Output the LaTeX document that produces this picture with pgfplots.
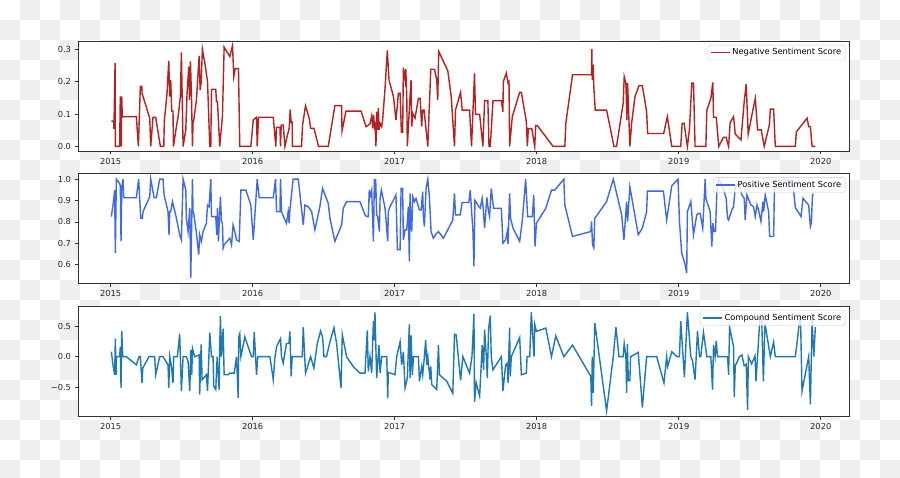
\documentclass[border=0pt]{standalone}
\usepackage{fontspec}
\setmainfont{DejaVu Sans}
\usepackage{pgfplots}
\pgfplotsset{compat=1.18}
\definecolor{negRed}{HTML}{B22222}
\definecolor{posBlue}{HTML}{4169E1}
\definecolor{cmpBlue}{HTML}{1F77B4}
\definecolor{checker}{HTML}{EFEFEF}
\definecolor{spine}{HTML}{333333}
\newcommand{\lblfont}{\fontsize{8.3}{10}\selectfont}
\pgfplotsset{
  panel/.style={
    scale only axis, width=771.3pt, height=110pt, anchor=south west,
    xmin=2014.770, xmax=2020.201,
    xtick={2015,2016,2017,2018,2019,2020},
    xticklabels={2015,2016,2017,2018,2019,2020},
    tick align=outside, tick pos=left, major tick length=3.5pt,
    axis line style={spine, line width=0.8pt},
    tick style={spine, line width=0.8pt},
    tick label style={font=\lblfont, text=black!85},
    axis background/.style={fill=white},
    legend style={at={(1,1)}, anchor=north east, xshift=-4pt, yshift=-4pt,
      draw=black!20, fill=white, fill opacity=0.8, text opacity=1,
      rounded corners=2pt, font=\lblfont, inner xsep=2pt, inner ysep=1.5pt},
    legend cell align=left,
    legend image code/.code={\draw[#1] (0pt,0pt) -- (19pt,0pt);},
  },
}
\begin{document}
\begin{tikzpicture}
\path[use as bounding box] (0,0) rectangle (900pt,478pt);
% transparent background as it shows in the reference
\begin{scope}
\clip (0,0) rectangle (900pt,478pt);
\foreach \r in {0,...,23}{\foreach \c in {0,...,44}{
  \pgfmathtruncatemacro{\odd}{mod(\r+\c,2)}
  \ifnum\odd=1 \fill[checker] ({\c*20pt},{458pt-\r*20pt}) rectangle ++(20pt,20pt); \fi
}}
\end{scope}

% negative
\begin{axis}[panel, at={(78pt,327pt)},
    ymin=-0.014, ymax=0.325,
    ytick={0,0.1,0.2,0.3}, yticklabels={0.0,0.1,0.2,0.3}]
\addplot[negRed, line width=1.4pt] coordinates {
(2015.005,0.078) (2015.021,0.078) (2015.023,0.054) (2015.031,0.257) (2015.033,0) (2015.063,0) (2015.068,0.154) (2015.075,0) (2015.078,0.154) (2015.082,0.092) (2015.181,0.092) (2015.195,0) (2015.209,0.185) (2015.219,0.185) (2015.221,0.164) (2015.275,0.087) (2015.282,0) (2015.298,0.090) (2015.317,0.090) (2015.350,0) (2015.374,0) (2015.378,0.079) (2015.397,0.164) (2015.409,0.264) (2015.416,0.154) (2015.423,0.205) (2015.430,0.109) (2015.439,0.109) (2015.442,0) (2015.463,0.061) (2015.475,0.092) (2015.491,0.154) (2015.498,0.290) (2015.510,0) (2015.529,0.051) (2015.538,0.164) (2015.550,0.246) (2015.555,0.143) (2015.559,0.236) (2015.562,0.262) (2015.569,0.154) (2015.576,0) (2015.580,0.073) (2015.585,0.081) (2015.604,0.143) (2015.623,0.279) (2015.630,0.174) (2015.637,0.195) (2015.646,0.300) (2015.663,0.257) (2015.682,0.200) (2015.698,0) (2015.705,0) (2015.710,0.176) (2015.740,0.176) (2015.745,0.138) (2015.752,0.138) (2015.768,0) (2015.787,0.092) (2015.799,0.306) (2015.839,0.277) (2015.858,0.311) (2015.867,0.215) (2015.877,0.240) (2015.900,0.240) (2015.909,0) (2015.987,0) (2016.004,0.081) (2016.013,0.085) (2016.027,0.090) (2016.032,0) (2016.041,0.090) (2016.145,0.090) (2016.163,0) (2016.168,0.059) (2016.192,0.059) (2016.196,0) (2016.201,0.066) (2016.215,0.066) (2016.227,0) (2016.243,0.032) (2016.257,0.056) (2016.264,0.113) (2016.271,0.075) (2016.278,0.075) (2016.280,0) (2016.344,0) (2016.351,0.066) (2016.372,0.125) (2016.398,0.087) (2016.408,0.056) (2016.431,0.056) (2016.464,0) (2016.532,0) (2016.579,0.126) (2016.626,0.126) (2016.629,0.048) (2016.657,0.109) (2016.763,0.109) (2016.798,0.061) (2016.826,0.069) (2016.838,0.094) (2016.845,0.056) (2016.852,0.097) (2016.859,0.051) (2016.861,0.076) (2016.868,0) (2016.873,0.107) (2016.878,0.051) (2016.885,0.118) (2016.890,0.051) (2016.897,0.071) (2016.908,0.061) (2016.915,0.081) (2016.932,0.179) (2016.948,0.296) (2016.960,0.205) (2016.991,0.154) (2017.009,0.081) (2017.026,0.164) (2017.038,0.164) (2017.047,0.044) (2017.056,0.044) (2017.061,0.243) (2017.073,0.205) (2017.078,0.238) (2017.085,0.154) (2017.089,0) (2017.108,0.154) (2017.115,0.205) (2017.120,0.061) (2017.127,0.102) (2017.143,0.087) (2017.167,0.148) (2017.179,0.148) (2017.190,0.061) (2017.197,0.112) (2017.207,0.112) (2017.221,0.051) (2017.233,0) (2017.254,0.238) (2017.280,0.238) (2017.296,0.205) (2017.303,0.143) (2017.310,0.293) (2017.374,0.233) (2017.398,0.154) (2017.421,0) (2017.428,0.112) (2017.464,0.167) (2017.475,0.112) (2017.527,0.112) (2017.541,0) (2017.562,0.226) (2017.569,0.099) (2017.598,0.099) (2017.621,0) (2017.633,0.141) (2017.656,0.141) (2017.664,0) (2017.673,0) (2017.680,0.051) (2017.692,0.141) (2017.751,0.141) (2017.762,0.107) (2017.765,0.200) (2017.786,0.226) (2017.798,0.195) (2017.805,0.200) (2017.809,0) (2017.828,0.092) (2017.880,0.167) (2017.892,0.167) (2017.927,0.076) (2017.934,0) (2017.941,0.055) (2017.965,0.055) (2017.986,0) (2017.993,0.064) (2018.005,0.064) (2018.115,0) (2018.198,0) (2018.205,0.071) (2018.252,0.221) (2018.386,0.221) (2018.388,0.300) (2018.391,0.205) (2018.398,0.252) (2018.402,0.185) (2018.412,0.112) (2018.492,0.112) (2018.544,0) (2018.562,0) (2018.609,0.133) (2018.616,0.215) (2018.628,0.195) (2018.635,0.081) (2018.640,0.195) (2018.656,0) (2018.668,0.071) (2018.692,0.154) (2018.720,0.187) (2018.744,0.187) (2018.774,0.107) (2018.781,0.040) (2018.894,0.040) (2018.920,0.092) (2018.951,0) (2019.014,0) (2019.024,0.071) (2019.038,0.071) (2019.061,0) (2019.075,0.051) (2019.092,0.195) (2019.104,0.195) (2019.115,0) (2019.191,0) (2019.198,0.112) (2019.226,0.148) (2019.240,0.197) (2019.245,0.090) (2019.264,0.090) (2019.282,0) (2019.315,0.028) (2019.334,0.028) (2019.351,0) (2019.362,0.073) (2019.386,0.092) (2019.398,0.038) (2019.438,0.020) (2019.461,0.138) (2019.475,0.193) (2019.489,0.038) (2019.522,0.112) (2019.539,0.148) (2019.555,0.051) (2019.581,0.051) (2019.602,0) (2019.638,0.066) (2019.645,0.115) (2019.668,0.115) (2019.680,0) (2019.821,0) (2019.828,0.045) (2019.904,0.087) (2019.915,0.061) (2019.927,0.061) (2019.939,0) (2019.962,0)
};
\addlegendentry{Negative Sentiment Score}
\end{axis}

% positive
\begin{axis}[panel, at={(78pt,194.5pt)},
    ymin=0.512, ymax=1.0265,
    ytick={0.6,0.7,0.8,0.9,1.0}, yticklabels={0.6,0.7,0.8,0.9,1.0}]
\addplot[posBlue, line width=1.4pt] coordinates {
(2015.005,0.825) (2015.021,0.902) (2015.028,0.949) (2015.033,0.654) (2015.040,1.0) (2015.063,0.980) (2015.068,0.969) (2015.073,0.709) (2015.078,0.957) (2015.087,1.0) (2015.092,0.913) (2015.181,0.913) (2015.197,1.0) (2015.212,0.817) (2015.223,0.817) (2015.228,0.848) (2015.275,0.918) (2015.282,1.0) (2015.306,0.913) (2015.322,0.913) (2015.345,1.0) (2015.369,1.0) (2015.376,0.926) (2015.404,0.848) (2015.411,0.740) (2015.416,0.848) (2015.423,0.848) (2015.435,0.895) (2015.458,0.833) (2015.486,0.740) (2015.498,0.716) (2015.510,1.0) (2015.529,0.949) (2015.533,0.817) (2015.545,0.755) (2015.557,0.864) (2015.564,0.538) (2015.576,1.0) (2015.580,0.848) (2015.585,0.840) (2015.604,0.747) (2015.620,0.647) (2015.627,0.740) (2015.639,0.709) (2015.651,0.755) (2015.674,0.794) (2015.682,0.879) (2015.693,0.871) (2015.705,1.0) (2015.710,0.825) (2015.740,0.825) (2015.747,0.740) (2015.752,0.864) (2015.759,0.709) (2015.766,0.825) (2015.773,0.918) (2015.780,0.802) (2015.787,0.794) (2015.792,0.678) (2015.799,0.693) (2015.839,0.724) (2015.851,0.693) (2015.862,0.786) (2015.874,0.755) (2015.886,0.716) (2015.905,0.709) (2015.917,0.949) (2015.952,0.949) (2015.987,0.879) (2016.004,0.716) (2016.032,1.0) (2016.046,0.913) (2016.145,0.913) (2016.161,1.0) (2016.168,0.848) (2016.192,0.848) (2016.196,1.0) (2016.203,0.848) (2016.227,0.809) (2016.238,0.794) (2016.250,0.848) (2016.257,0.794) (2016.262,0.856) (2016.285,1.0) (2016.321,1.0) (2016.356,0.786) (2016.368,0.879) (2016.391,0.871) (2016.415,0.848) (2016.438,0.763) (2016.473,0.871) (2016.492,0.957) (2016.532,0.887) (2016.544,0.817) (2016.579,0.709) (2016.626,0.786) (2016.638,0.864) (2016.661,0.895) (2016.755,0.895) (2016.791,0.833) (2016.802,0.825) (2016.814,0.825) (2016.821,0.949) (2016.826,0.918) (2016.838,0.949) (2016.850,0.709) (2016.857,1.0) (2016.861,0.910) (2016.866,1.0) (2016.873,0.833) (2016.880,0.825) (2016.892,0.755) (2016.897,0.910) (2016.906,0.949) (2016.932,0.864) (2016.951,0.709) (2016.955,0.848) (2016.967,0.871) (2017.009,0.926) (2017.019,0.670) (2017.038,0.670) (2017.045,0.957) (2017.056,0.957) (2017.061,0.716) (2017.073,0.763) (2017.085,0.763) (2017.096,0.871) (2017.103,0.616) (2017.108,0.933) (2017.115,0.778) (2017.120,0.755) (2017.127,0.918) (2017.139,0.895) (2017.150,0.910) (2017.174,0.856) (2017.186,0.856) (2017.197,0.941) (2017.202,0.825) (2017.209,0.778) (2017.221,0.957) (2017.233,1.0) (2017.244,0.918) (2017.256,0.755) (2017.272,0.724) (2017.287,0.740) (2017.308,0.755) (2017.343,0.724) (2017.409,0.809) (2017.421,0.933) (2017.428,0.833) (2017.461,0.833) (2017.475,0.891) (2017.522,0.891) (2017.532,0.949) (2017.551,0.755) (2017.558,0.592) (2017.565,0.902) (2017.593,0.871) (2017.602,0.864) (2017.616,0.910) (2017.624,0.856) (2017.633,0.771) (2017.649,0.915) (2017.659,0.856) (2017.668,0.825) (2017.680,0.957) (2017.696,0.864) (2017.751,0.864) (2017.762,0.701) (2017.781,0.716) (2017.793,0.755) (2017.798,0.696) (2017.809,0.933) (2017.816,0.817) (2017.833,0.771) (2017.880,0.709) (2017.899,0.809) (2017.922,1.0) (2017.936,0.825) (2017.969,0.825) (2017.979,0.926) (2017.988,0.685) (2017.998,0.794) (2018.064,0.864) (2018.104,0.949) (2018.127,0.949) (2018.191,1.0) (2018.198,0.879) (2018.252,0.732) (2018.381,0.755) (2018.386,0.802) (2018.393,0.693) (2018.402,0.678) (2018.409,0.817) (2018.492,0.895) (2018.539,1.0) (2018.598,0.833) (2018.614,0.716) (2018.633,0.895) (2018.640,0.802) (2018.656,0.964) (2018.715,0.740) (2018.744,0.771) (2018.774,0.848) (2018.779,0.944) (2018.892,0.944) (2018.915,0.809) (2018.951,0.969) (2018.995,1.0) (2019.005,0.802) (2019.021,0.654) (2019.045,0.600) (2019.056,0.561) (2019.061,0.848) (2019.085,0.895) (2019.104,0.740) (2019.127,0.833) (2019.139,0.840) (2019.151,0.840) (2019.169,0.771) (2019.186,1.0) (2019.191,0.910) (2019.221,0.848) (2019.233,0.685) (2019.240,0.794) (2019.249,0.755) (2019.259,0.755) (2019.268,0.941) (2019.280,1.0) (2019.304,0.975) (2019.334,0.910) (2019.344,0.817) (2019.351,0.809) (2019.374,0.856) (2019.386,0.871) (2019.398,0.964) (2019.421,0.980) (2019.433,0.957) (2019.445,0.926) (2019.461,0.910) (2019.468,0.809) (2019.480,0.926) (2019.508,0.879) (2019.527,0.871) (2019.539,0.825) (2019.551,0.879) (2019.562,0.856) (2019.579,0.802) (2019.593,0.895) (2019.598,0.848) (2019.609,0.926) (2019.633,0.848) (2019.640,0.732) (2019.668,0.732) (2019.675,0.995) (2019.798,0.995) (2019.805,0.972) (2019.821,0.867) (2019.861,0.825) (2019.875,0.910) (2019.904,0.887) (2019.915,0.879) (2019.927,0.778) (2019.934,0.794) (2019.941,0.918) (2019.946,0.933)
};
\addlegendentry{Positive Sentiment Score}
\end{axis}

% compound
\begin{axis}[panel, at={(78pt,61.5pt)},
    ymin=-0.976, ymax=0.818,
    ytick={-0.5,0,0.5}, yticklabels={−0.5,0.0,0.5}]
\addplot[cmpBlue, line width=1.4pt] coordinates {
(2015.005,0.080) (2015.016,-0.134) (2015.028,-0.295) (2015.033,0.295) (2015.038,-0.295) (2015.040,0) (2015.063,0) (2015.068,0.161) (2015.073,-0.509) (2015.078,0.418) (2015.085,0) (2015.110,0) (2015.181,-0.134) (2015.200,0) (2015.209,0) (2015.221,-0.429) (2015.226,-0.188) (2015.251,-0.080) (2015.270,0) (2015.310,0) (2015.317,-0.295) (2015.345,0) (2015.369,0) (2015.404,-0.134) (2015.409,-0.509) (2015.416,0) (2015.428,-0.161) (2015.439,-0.429) (2015.444,0) (2015.470,0) (2015.486,0.375) (2015.498,-0.563) (2015.510,0) (2015.533,0) (2015.545,-0.080) (2015.557,-0.563) (2015.564,0.107) (2015.571,-0.295) (2015.576,0.134) (2015.592,0) (2015.623,0.027) (2015.627,-0.617) (2015.637,0.198) (2015.644,-0.375) (2015.674,-0.295) (2015.682,-0.563) (2015.698,0.391) (2015.710,0) (2015.721,0) (2015.726,-0.482) (2015.740,-0.536) (2015.750,0) (2015.764,-0.536) (2015.768,0.188) (2015.773,0.659) (2015.780,0) (2015.792,0.456) (2015.799,-0.295) (2015.827,-0.295) (2015.839,-0.268) (2015.870,-0.268) (2015.886,0) (2015.898,-0.670) (2015.902,0.322) (2015.909,0.375) (2015.917,0) (2015.945,0.322) (2015.956,0.241) (2015.992,0) (2016.004,0) (2016.011,0.402) (2016.027,-0.295) (2016.036,0) (2016.121,0) (2016.145,-0.375) (2016.156,-0.027) (2016.168,0.161) (2016.196,0.295) (2016.203,0) (2016.215,-0.107) (2016.238,0.214) (2016.255,0.214) (2016.262,0.413) (2016.271,-0.322) (2016.278,0) (2016.349,0) (2016.356,0.482) (2016.372,-0.268) (2016.408,0) (2016.431,-0.188) (2016.455,0.214) (2016.478,0.418) (2016.492,0.322) (2016.502,0) (2016.520,0) (2016.544,0.241) (2016.572,0.472) (2016.591,0.214) (2016.622,-0.509) (2016.631,0.359) (2016.661,0) (2016.708,-0.161) (2016.755,-0.268) (2016.791,-0.268) (2016.807,0.429) (2016.814,-0.241) (2016.826,0) (2016.838,-0.268) (2016.850,0.579) (2016.857,0.268) (2016.861,0.724) (2016.873,-0.348) (2016.889,0.188) (2016.897,-0.268) (2016.908,0) (2016.944,0) (2016.951,-0.681) (2016.955,-0.257) (2017.002,-0.295) (2017.014,0) (2017.038,0.241) (2017.049,-0.134) (2017.061,0.080) (2017.073,-0.509) (2017.089,-0.348) (2017.103,0.525) (2017.108,-0.348) (2017.115,0.348) (2017.124,-0.295) (2017.132,0) (2017.167,0) (2017.174,-0.402) (2017.190,-0.161) (2017.197,-0.295) (2017.209,0) (2017.218,0.268) (2017.226,-0.134) (2017.233,0) (2017.237,-0.107) (2017.249,-0.375) (2017.254,-0.161) (2017.261,-0.456) (2017.296,-0.536) (2017.308,0.188) (2017.315,-0.295) (2017.367,-0.402) (2017.409,-0.600) (2017.421,0.364) (2017.433,0.354) (2017.464,-0.386) (2017.480,0) (2017.527,-0.268) (2017.544,0) (2017.558,0.697) (2017.562,-0.740) (2017.574,-0.429) (2017.598,-0.643) (2017.616,0.188) (2017.626,-0.214) (2017.633,0.440) (2017.645,0) (2017.652,-0.348) (2017.661,0.456) (2017.673,0.670) (2017.680,0) (2017.692,-0.214) (2017.751,0) (2017.762,-0.563) (2017.781,-0.134) (2017.793,-0.107) (2017.798,-0.429) (2017.809,0.472) (2017.814,-0.322) (2017.821,0) (2017.880,0.311) (2017.892,-0.295) (2017.927,-0.268) (2017.932,0) (2017.951,0) (2017.962,0.724) (2017.981,0) (2017.986,0.525) (2017.998,0.413) (2018.064,0.466) (2018.104,0) (2018.134,0.338) (2018.191,0) (2018.252,0.188) (2018.381,-0.322) (2018.386,-0.804) (2018.391,0) (2018.398,-0.590) (2018.409,0.547) (2018.492,-0.884) (2018.539,0) (2018.558,0.482) (2018.579,0) (2018.609,0) (2018.616,0.214) (2018.628,0) (2018.633,-0.590) (2018.638,0.204) (2018.645,-0.391) (2018.656,-0.391) (2018.661,0) (2018.715,0.070) (2018.744,-0.831) (2018.774,0) (2018.845,0) (2018.896,-0.429) (2018.915,0) (2018.922,-0.161) (2018.951,0.080) (2018.986,0) (2019.005,0) (2019.014,0.579) (2019.040,-0.338) (2019.061,0.724) (2019.085,0) (2019.096,-0.054) (2019.115,-0.375) (2019.132,0.418) (2019.146,0) (2019.155,0) (2019.174,0.397) (2019.198,0) (2019.226,0) (2019.238,-0.536) (2019.245,0.188) (2019.256,0) (2019.264,0.257) (2019.273,0) (2019.344,0) (2019.351,-0.295) (2019.358,0.482) (2019.386,0.161) (2019.391,-0.654) (2019.398,-0.150) (2019.428,0) (2019.445,0.027) (2019.461,-0.150) (2019.475,-0.123) (2019.485,-0.868) (2019.490,0) (2019.513,-0.118) (2019.525,-0.054) (2019.537,0.011) (2019.544,-0.402) (2019.572,0.643) (2019.584,0.643) (2019.596,-0.402) (2019.607,0.547) (2019.645,0) (2019.668,0.236) (2019.680,0) (2019.821,0) (2019.857,0.697) (2019.868,-0.563) (2019.915,0) (2019.927,-0.777) (2019.939,0.600) (2019.951,0) (2019.962,0.482)
};
\addlegendentry{Compound Sentiment Score}
\end{axis}
\end{tikzpicture}
\end{document}
